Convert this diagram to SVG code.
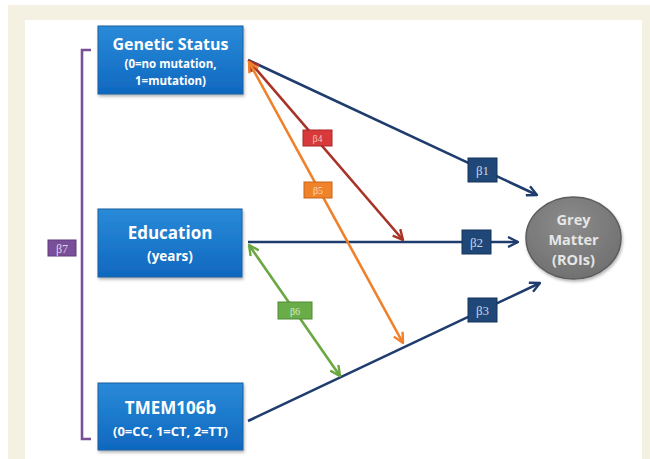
<svg xmlns="http://www.w3.org/2000/svg" width="650" height="459" viewBox="0 0 650 459">
<defs>
<style>
.node rect.box{fill:url(#blue);stroke:#1a5fa0;stroke-width:1}
.t1{font-family:"Open Sans","Noto Sans",sans-serif;font-weight:bold;fill:#fff;text-anchor:middle}
.beta{font-family:"Liberation Serif",serif;font-size:13px;text-anchor:middle}
.conn{fill:none;stroke-width:2.6}
</style>
<linearGradient id="blue" x1="0" y1="0" x2="0" y2="1">
<stop offset="0" stop-color="#2a8ad8"/><stop offset="1" stop-color="#0f68bf"/>
</linearGradient>
<radialGradient id="grey" cx="0.45" cy="0.35" r="0.7">
<stop offset="0" stop-color="#8c8c8c"/><stop offset="1" stop-color="#6f6f6f"/>
</radialGradient>
<filter id="sh" x="-10%" y="-10%" width="130%" height="130%">
<feDropShadow dx="1" dy="2" stdDeviation="1.5" flood-color="#000" flood-opacity="0.3"/>
</filter>
<marker id="aN" viewBox="0 0 12 12" refX="11" refY="6" markerWidth="12" markerHeight="12" markerUnits="userSpaceOnUse" orient="auto-start-reverse"><path d="M1,1 L11,6 L1,11" fill="none" stroke="#1f3c6e" stroke-width="2.4"/></marker>
<marker id="aR" viewBox="0 0 12 12" refX="11" refY="6" markerWidth="12" markerHeight="12" markerUnits="userSpaceOnUse" orient="auto-start-reverse"><path d="M1,1 L11,6 L1,11" fill="none" stroke="#a93226" stroke-width="2.4"/></marker>
<marker id="aO" viewBox="0 0 12 12" refX="11" refY="6" markerWidth="12" markerHeight="12" markerUnits="userSpaceOnUse" orient="auto-start-reverse"><path d="M1,1 L11,6 L1,11" fill="none" stroke="#f0802a" stroke-width="2.4"/></marker>
<marker id="aG" viewBox="0 0 12 12" refX="11" refY="6" markerWidth="12" markerHeight="12" markerUnits="userSpaceOnUse" orient="auto-start-reverse"><path d="M1,1 L11,6 L1,11" fill="none" stroke="#6aa842" stroke-width="2.4"/></marker>
</defs>
<rect x="0" y="0" width="650" height="459" fill="#ffffff"/>
<rect x="8" y="5" width="642" height="454" fill="#f4f0e2"/>
<rect x="25" y="20" width="617" height="439" fill="#ffffff"/>

<g id="connectors">
<line class="conn" x1="248" y1="60" x2="537" y2="195" stroke="#1f3c6e" marker-end="url(#aN)"/>
<line class="conn" x1="248" y1="242" x2="518" y2="242" stroke="#1f3c6e" marker-end="url(#aN)"/>
<line class="conn" x1="248" y1="421" x2="540" y2="283" stroke="#1f3c6e" marker-end="url(#aN)"/>
<line class="conn" x1="249" y1="61" x2="403" y2="240" stroke="#a93226" marker-start="url(#aR)" marker-end="url(#aR)"/>
<line class="conn" x1="249" y1="62" x2="403" y2="343" stroke="#f0802a" marker-start="url(#aO)" marker-end="url(#aO)"/>
<line class="conn" x1="249" y1="245" x2="340" y2="376" stroke="#6aa842" marker-start="url(#aG)" marker-end="url(#aG)"/>
<polyline points="91,50 82,50 82,439 91,439" fill="none" stroke="#7a4f9a" stroke-width="2.6"/>
</g>

<g id="beta1"><rect x="468" y="158" width="29" height="24" fill="#1f4777" stroke="#16335a"/><text class="beta" x="482.5" y="175" fill="#c9d4e6">β1</text></g>
<g id="beta2"><rect x="462" y="230" width="29" height="24" fill="#1f4777" stroke="#16335a"/><text class="beta" x="476.5" y="247" fill="#c9d4e6">β2</text></g>
<g id="beta3"><rect x="468" y="298" width="29" height="24" fill="#1f4777" stroke="#16335a"/><text class="beta" x="482.5" y="315" fill="#c9d4e6">β3</text></g>
<g id="beta4"><rect x="303" y="130" width="29" height="16" fill="#d8393a" stroke="#a82828"/><text class="beta" x="317.5" y="142" fill="#f4c0b8" style="font-size:10px">β4</text></g>
<g id="beta5"><rect x="304" y="182" width="28" height="16" fill="#f0822a" stroke="#c8641a"/><text class="beta" x="318" y="194" fill="#fbd9b8" style="font-size:10px">β5</text></g>
<g id="beta6"><rect x="278" y="302" width="34" height="17" fill="#6aac48" stroke="#4f8a34"/><text class="beta" x="295" y="314.5" fill="#d6ecc8" style="font-size:10px">β6</text></g>
<g id="beta7"><rect x="48" y="240" width="28" height="16" fill="#7a4f9a" stroke="#5e3a7c"/><text class="beta" x="62" y="252.5" fill="#e0d2ec" style="font-size:12px">β7</text></g>

<g id="genetic" class="node"><rect class="box" x="98" y="26" width="145" height="68" filter="url(#sh)"/>
<text class="t1" x="170.5" y="50" font-size="16">Genetic Status</text>
<text class="t1" x="170.5" y="68" font-size="11.5">(0=no mutation,</text>
<text class="t1" x="170.5" y="84.5" font-size="11.5">1=mutation)</text></g>

<g id="education" class="node"><rect class="box" x="98" y="209" width="144" height="68" filter="url(#sh)"/>
<text class="t1" x="170" y="239" font-size="17">Education</text>
<text class="t1" x="170" y="261" font-size="13.5">(years)</text></g>

<g id="tmem" class="node"><rect class="box" x="98" y="383" width="145" height="67" filter="url(#sh)"/>
<text class="t1" x="170.5" y="414" font-size="17">TMEM106b</text>
<text class="t1" x="170.5" y="436" font-size="13">(0=CC, 1=CT, 2=TT)</text></g>

<g id="grey-matter" class="node"><ellipse cx="573.5" cy="238" rx="47.5" ry="41" fill="url(#grey)" stroke="#5c5c5c" stroke-width="1.5" filter="url(#sh)"/>
<text class="t1" x="573.5" y="225" font-size="14.5" style="fill:#e6e6e6">Grey</text>
<text class="t1" x="573.5" y="245" font-size="14.5" style="fill:#e6e6e6">Matter</text>
<text class="t1" x="573.5" y="265" font-size="14.5" style="fill:#e6e6e6">(ROIs)</text></g>
</svg>
